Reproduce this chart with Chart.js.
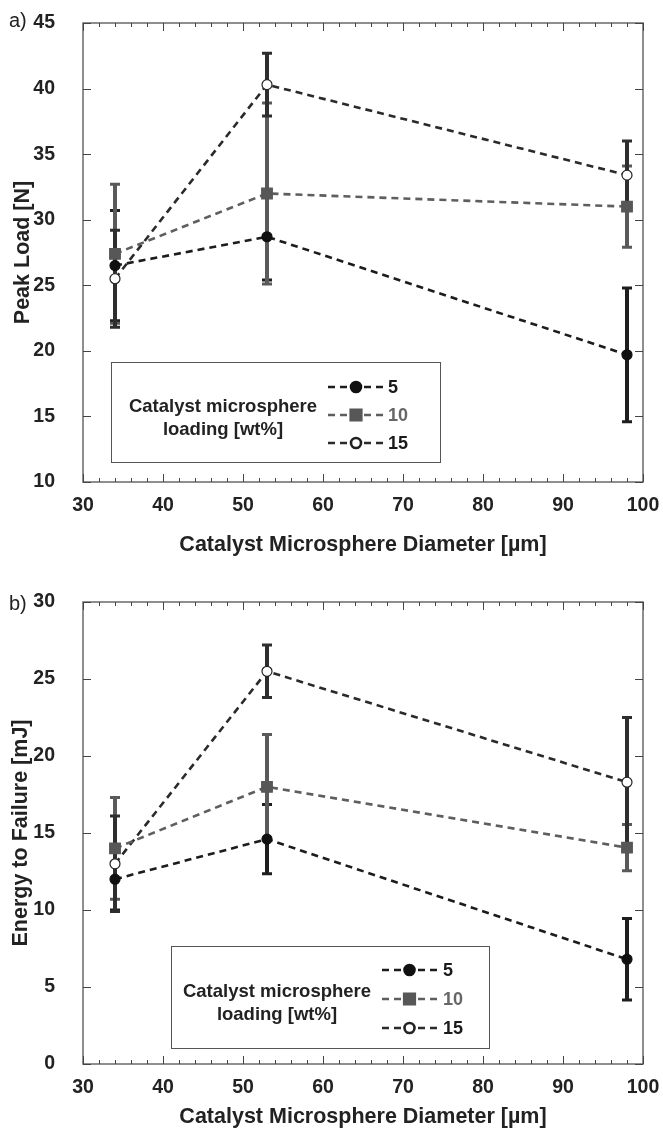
<!DOCTYPE html>
<html>
<head>
<meta charset="utf-8">
<script src="https://cdn.jsdelivr.net/npm/chart.js@4/dist/chart.umd.min.js"></script>
<style>
  body { margin: 0; background: #fff; }
  canvas { position: absolute; left: 0; }
</style>
</head>
<body>
<canvas id="peakChart" width="663" height="566" style="top:0"></canvas>
<canvas id="energyChart" width="663" height="567" style="top:566px"></canvas>
<script>
// Catalyst microsphere diameter [µm]
const diameters = [34, 53, 98];
// Catalyst loading [wt%]
const loadings = ["5", "10", "15"];

// Peak load [N] and error bar half-widths
const peakLoad5 = [26.5, 28.7, 19.7];
const peakLoad10 = [27.4, 32.0, 31.0];
const peakLoad15 = [25.5, 40.3, 33.4];
const peakErr5 = [4.2, 3.3, 5.1];
const peakErr10 = [5.3, 6.9, 3.1];
const peakErr15 = [3.7, 2.4, 2.6];

// Energy to failure [mJ] and error bar half-widths
const energy5 = [12.0, 14.6, 6.8];
const energy10 = [14.0, 18.0, 14.05];
const energy15 = [13.0, 25.5, 18.3];
const energyErr5 = [2.0, 2.25, 2.65];
const energyErr10 = [3.3, 3.4, 1.5];
const energyErr15 = [3.1, 1.7, 4.2];

const xTitle = "Catalyst Microsphere Diameter [µm]";
const legendTitle = ["Catalyst microsphere", "loading [wt%]"];

const FONT = '"Liberation Sans", Arial, sans-serif';

const seriesStyles = [
  { line: "#1c1c1c", point: "#111", fill: "#111", shape: "circle", radius: 5, err: "#1e1e1e", text: "#1a1a1a" },
  { line: "#5e5e5e", point: "#575757", fill: "#575757", shape: "rect", radius: 7.5, err: "#5a5a5a", text: "#666" },
  { line: "#2a2a2a", point: "#222", fill: "#fff", shape: "circle", radius: 5, err: "#2e2e2e", text: "#1a1a1a" },
];

// Frame, ticks, error bars, legend box and titles
const panelDecor = {
  id: "panelDecor",
  beforeDatasetsDraw(chart, args, opts) {
    const ctx = chart.ctx;
    const xs = chart.scales.x;
    const ys = chart.scales.y;
    const area = chart.chartArea;

    ctx.save();
    // frame
    ctx.strokeStyle = "#6a6a6a";
    ctx.lineWidth = 1.5;
    ctx.strokeRect(area.left, area.top, area.right - area.left, area.bottom - area.top);

    // x ticks, major every 10, minor every 2, on top and bottom
    ctx.strokeStyle = "#444";
    ctx.lineWidth = 1;
    for (let v = xs.min; v <= xs.max; v += 2) {
      const px = Math.round(xs.getPixelForValue(v)) + 0.5;
      const len = v % 10 === 0 ? 8 : 4;
      ctx.beginPath();
      ctx.moveTo(px, area.bottom);
      ctx.lineTo(px, area.bottom - len);
      ctx.moveTo(px, area.top);
      ctx.lineTo(px, area.top + len);
      ctx.stroke();
    }
    // y ticks on left and right
    for (let v = ys.min; v <= ys.max; v += opts.yStep) {
      const py = Math.round(ys.getPixelForValue(v)) + 0.5;
      ctx.beginPath();
      ctx.moveTo(area.left, py);
      ctx.lineTo(area.left + 8, py);
      ctx.moveTo(area.right, py);
      ctx.lineTo(area.right - 8, py);
      ctx.stroke();
    }

    // error bars
    opts.values.forEach((vals, k) => {
      const errs = opts.errors[k];
      ctx.strokeStyle = seriesStyles[k].err;
      diameters.forEach((d, i) => {
        const px = xs.getPixelForValue(d);
        const top = ys.getPixelForValue(vals[i] + errs[i]);
        const bot = ys.getPixelForValue(vals[i] - errs[i]);
        ctx.lineWidth = 4;
        ctx.beginPath();
        ctx.moveTo(px, top);
        ctx.lineTo(px, bot);
        ctx.stroke();
        ctx.lineWidth = 3;
        ctx.beginPath();
        ctx.moveTo(px - 5, top);
        ctx.lineTo(px + 5, top);
        ctx.moveTo(px - 5, bot);
        ctx.lineTo(px + 5, bot);
        ctx.stroke();
      });
    });
    ctx.restore();
  },
  afterDraw(chart, args, opts) {
    const ctx = chart.ctx;
    const area = chart.chartArea;
    const lg = opts.legend;
    ctx.save();

    // legend box
    ctx.fillStyle = "#fff";
    ctx.fillRect(lg.x, lg.y, lg.w, lg.h);
    ctx.strokeStyle = "#555";
    ctx.lineWidth = 1;
    ctx.strokeRect(lg.x + 0.5, lg.y + 0.5, lg.w, lg.h);

    ctx.fillStyle = "#222";
    ctx.font = "bold 18.5px " + FONT;
    ctx.textAlign = "center";
    ctx.textBaseline = "middle";
    ctx.fillText(legendTitle[0], lg.titleX, lg.titleY);
    ctx.fillText(legendTitle[1], lg.titleX, lg.titleY + 23);

    ctx.font = "bold 18px " + FONT;
    chart.data.datasets.forEach((ds, k) => {
      const y = lg.rowY + k * lg.rowGap;
      const st = seriesStyles[k];
      ctx.strokeStyle = st.line;
      ctx.lineWidth = 2.6;
      ctx.setLineDash(ds.borderDash);
      ctx.beginPath();
      ctx.moveTo(lg.lineX, y);
      ctx.lineTo(lg.lineX + lg.lineW, y);
      ctx.stroke();
      ctx.setLineDash([]);
      ctx.fillStyle = st.fill;
      ctx.strokeStyle = st.point;
      Chart.helpers.drawPoint(ctx, {
        pointStyle: st.shape,
        radius: st.radius,
        rotation: 0,
        borderWidth: 1.2,
      }, lg.lineX + lg.lineW / 2, y);
      ctx.fillStyle = st.text;
      ctx.textAlign = "left";
      ctx.fillText(loadings[k], lg.labelX, y + 1);
    });

    // axis titles
    ctx.fillStyle = "#222";
    ctx.font = "bold 21.5px " + FONT;
    ctx.textAlign = "center";
    ctx.fillText(xTitle, (area.left + area.right) / 2, opts.xTitleY);
    ctx.save();
    ctx.translate(opts.yTitleX, (area.top + area.bottom) / 2);
    ctx.rotate(-Math.PI / 2);
    ctx.fillText(opts.yTitle, 0, 0);
    ctx.restore();

    // panel letter
    ctx.font = "20px " + FONT;
    ctx.textAlign = "left";
    ctx.fillText(opts.letter, 9, opts.letterY);
    ctx.restore();
  },
};

function makePanel(canvasId, cfg) {
  const datasets = cfg.values.map((vals, k) => {
    const st = seriesStyles[k];
    return {
      label: loadings[k],
      data: diameters.map((d, i) => ({ x: d, y: vals[i] })),
      borderColor: st.line,
      borderWidth: 2.6,
      borderDash: [7, 5],
      pointStyle: st.shape,
      pointRadius: st.radius,
      pointBackgroundColor: st.fill,
      pointBorderColor: st.point,
      pointBorderWidth: 1.2,
      tension: 0,
      fill: false,
      clip: false,
    };
  });

  // tick marks are drawn by the plugin; the hidden grid tickLength only
  // spaces the labels away from the frame
  return new Chart(document.getElementById(canvasId), {
    type: "line",
    data: { datasets },
    options: {
      responsive: false,
      animation: false,
      devicePixelRatio: 1,
      layout: { padding: { top: cfg.top, right: 20, left: 0, bottom: 0 } },
      plugins: {
        legend: { display: false },
        tooltip: { enabled: false },
        panelDecor: cfg,
      },
      scales: {
        x: {
          type: "linear",
          min: 30,
          max: 100,
          grid: { display: false, drawTicks: true, tickLength: 12 },
          border: { display: false },
          ticks: {
            stepSize: 10,
            padding: 0,
            color: "#222",
            font: { family: FONT, size: 19.5, weight: "bold" },
          },
          afterFit: (s) => { s.height = cfg.xAxisHeight; },
        },
        y: {
          min: cfg.yMin,
          max: cfg.yMax,
          grid: { display: false, drawTicks: true, tickLength: 26 },
          border: { display: false },
          ticks: {
            stepSize: cfg.yStep,
            padding: 2,
            color: "#222",
            font: { family: FONT, size: 19.5, weight: "bold" },
          },
          afterFit: (s) => { s.width = 83; },
        },
      },
    },
    plugins: [panelDecor],
  });
}

makePanel("peakChart", {
  values: [peakLoad5, peakLoad10, peakLoad15],
  errors: [peakErr5, peakErr10, peakErr15],
  yMin: 10, yMax: 45, yStep: 5,
  top: 23, xAxisHeight: 84,
  yTitle: "Peak Load [N]", yTitleX: 23, xTitleY: 545,
  letter: "a)", letterY: 21,
  legend: { x: 111, y: 362, w: 329, h: 100, titleX: 223, titleY: 407,
            lineX: 328, lineW: 56, labelX: 388, rowY: 387, rowGap: 28 },
});

makePanel("energyChart", {
  values: [energy5, energy10, energy15],
  errors: [energyErr5, energyErr10, energyErr15],
  yMin: 0, yMax: 30, yStep: 5,
  top: 36, xAxisHeight: 69,
  yTitle: "Energy to Failure [mJ]", yTitleX: 21, xTitleY: 551,
  letter: "b)", letterY: 38,
  legend: { x: 171, y: 380, w: 318, h: 102, titleX: 277, titleY: 426,
            lineX: 382, lineW: 55, labelX: 443, rowY: 404, rowGap: 29 },
});
</script>
</body>
</html>
